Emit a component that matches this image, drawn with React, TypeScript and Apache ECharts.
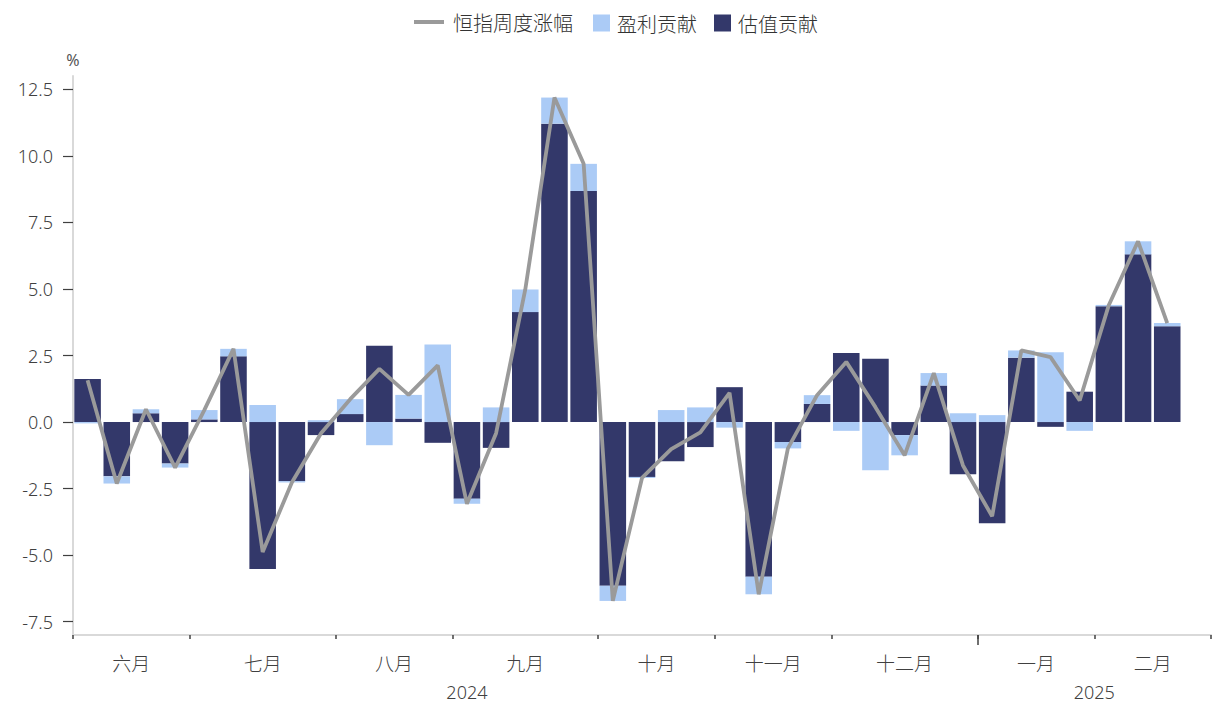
import React, { useEffect, useRef } from 'react';
import * as echarts from 'echarts';

// ---- data ----
const months = ['六月', '七月', '八月', '九月', '十月', '十一月', '十二月', '一月', '二月'];
const weeksPerMonth = [4, 5, 4, 5, 4, 4, 5, 4, 4];
const years = ['2024', '2025'];
const yearLabelPos = [13.5, 35];
const yearBoundaryPos = [31];
const yTicks = [-7.5, -5, -2.5, 0, 2.5, 5, 7.5, 10, 12.5];

// 恒指周度涨幅 (%)
const hsiWeekly = [
  1.57, -2.31, 0.48, -1.71, 0.45, 2.75, -4.88, -2.27, -0.42, 0.86,
  2.0, 1.02, 2.13, -3.07, -0.42, 4.98, 12.19, 9.7, -6.72, -2.1,
  -1.02, -0.39, 1.1, -6.47, -0.99, 1.01, 2.26, 0.56, -1.25, 1.84,
  -1.63, -3.54, 2.69, 2.44, 0.81, 4.4, 6.79, 3.72,
];
// 盈利贡献 (%)
const earningsContrib = [
  -0.05, -0.27, 0.15, -0.15, 0.35, 0.28, 0.64, -0.05, 0.07, 0.56,
  -0.87, 0.89, 2.91, -0.19, 0.55, 0.85, 0.98, 1.02, -0.57, -0.04,
  0.45, 0.55, -0.21, -0.66, -0.24, 0.33, -0.33, -1.81, -0.76, 0.47,
  0.33, 0.26, 0.27, 2.62, -0.33, 0.05, 0.49, 0.12,
];
// 估值贡献 (%)
const valuationContrib = [
  1.62, -2.04, 0.33, -1.56, 0.1, 2.47, -5.52, -2.22, -0.49, 0.3,
  2.87, 0.13, -0.78, -2.88, -0.97, 4.13, 11.21, 8.68, -6.15, -2.06,
  -1.47, -0.94, 1.31, -5.81, -0.75, 0.68, 2.59, 2.38, -0.49, 1.37,
  -1.96, -3.8, 2.42, -0.18, 1.14, 4.35, 6.3, 3.6,
];

// ---- derived axis helpers ----
const categories: string[] = [];
months.forEach((m, i) => {
  for (let w = 1; w <= weeksPerMonth[i]; w++) categories.push(`${m}第${w}周`);
});
const monthBounds: number[] = [0];
weeksPerMonth.forEach((n) => monthBounds.push(monthBounds[monthBounds.length - 1] + n));
const monthCenters = months.map((_, i) => (monthBounds[i] + monthBounds[i + 1]) / 2);
const totalWeeks = monthBounds[monthBounds.length - 1];

const C_DARK = '#33386a';
const C_LIGHT = '#abcbf6';
const C_LINE = '#9a9a9a';
const C_TEXT = '#404040';
const C_AXIS = '#d9d9d9';
const FONT = '"Noto Sans", "Noto Sans CJK SC", sans-serif';
const FONT_CJK = '"Noto Sans CJK SC", "Noto Sans", sans-serif';

const legendText = { fontSize: 20, color: '#333333', fontFamily: FONT_CJK, fontWeight: 300 as any };

const option: any = {
  animation: false,
  backgroundColor: '#ffffff',
  grid: { left: 73, right: 2, top: 76, bottom: 71, containLabel: false },
  legend: [
    {
      data: [{ name: '恒指周度涨幅', icon: 'rect' }], left: 414, top: 12, itemWidth: 30, itemHeight: 4,
      textStyle: { ...legendText, padding: [0, 0, 0, 4] }, padding: 0,
    },
    {
      data: [{ name: '盈利贡献', icon: 'rect' }], left: 593, top: 13, itemWidth: 17, itemHeight: 17,
      textStyle: { ...legendText, padding: [0, 0, 0, 2] }, padding: 0,
    },
    {
      data: [{ name: '估值贡献', icon: 'rect' }], left: 714, top: 13, itemWidth: 17, itemHeight: 17,
      textStyle: { ...legendText, padding: [0, 0, 0, 2] }, padding: 0,
    },
  ],
  xAxis: [
    {
      type: 'category',
      data: categories,
      boundaryGap: true,
      axisLine: { show: true, onZero: false, lineStyle: { color: C_AXIS, width: 2 } },
      axisTick: { show: false },
      axisLabel: { show: false },
      splitLine: { show: false },
    },
    {
      type: 'value',
      min: 0,
      max: totalWeeks,
      position: 'bottom',
      axisLine: { show: false, onZero: false },
      splitLine: { show: false },
      axisTick: {
        show: true, length: 4, customValues: monthBounds,
        lineStyle: { color: C_TEXT, width: 1.5 },
      },
      axisLabel: {
        show: true, margin: 18, customValues: monthCenters,
        fontSize: 19, color: C_TEXT, fontFamily: FONT_CJK, fontWeight: 300,
        formatter: (v: number) => {
          const i = monthCenters.findIndex((c) => Math.abs(c - v) < 1e-6);
          return i >= 0 ? months[i] : '';
        },
      },
    },
    {
      type: 'value',
      min: 0,
      max: totalWeeks,
      position: 'bottom',
      axisLine: { show: false, onZero: false },
      splitLine: { show: false },
      axisTick: {
        show: true, length: 10, customValues: yearBoundaryPos,
        lineStyle: { color: C_TEXT, width: 1.5 },
      },
      axisLabel: {
        show: true, margin: 48, customValues: yearLabelPos,
        fontSize: 18, color: C_TEXT, fontFamily: FONT, fontWeight: 300,
        formatter: (v: number) => {
          const i = yearLabelPos.findIndex((c) => Math.abs(c - v) < 1e-6);
          return i >= 0 ? years[i] : '';
        },
      },
    },
  ],
  yAxis: {
    type: 'value',
    min: -8,
    max: 13,
    name: '%',
    nameLocation: 'end',
    nameGap: 8,
    nameTextStyle: { fontSize: 16, color: '#555555', fontFamily: FONT, align: 'center' },
    axisLine: { show: true, lineStyle: { color: C_AXIS, width: 2 } },
    axisTick: { show: true, length: 10, customValues: yTicks, lineStyle: { color: C_TEXT, width: 1.2 } },
    axisLabel: {
      customValues: yTicks, margin: 20, fontSize: 18, color: C_TEXT, fontFamily: FONT, fontWeight: 300,
      formatter: (v: number) => v.toFixed(1),
    },
    splitLine: { show: false },
  },
  series: [
    {
      name: '估值贡献',
      type: 'bar',
      stack: 'contrib',
      xAxisIndex: 0,
      barWidth: '91%',
      itemStyle: { color: C_DARK },
      data: valuationContrib,
    },
    {
      name: '盈利贡献',
      type: 'bar',
      stack: 'contrib',
      xAxisIndex: 0,
      barWidth: '91%',
      itemStyle: { color: C_LIGHT },
      data: earningsContrib,
    },
    {
      name: '恒指周度涨幅',
      type: 'line',
      xAxisIndex: 0,
      symbol: 'none',
      z: 5,
      lineStyle: { color: C_LINE, width: 3.8 },
      itemStyle: { color: C_LINE },
      data: hsiWeekly,
    },
  ],
};

export default function App() {
  const ref = useRef<HTMLDivElement>(null);
  useEffect(() => {
    if (!ref.current) return;
    const chart = echarts.init(ref.current, null, { renderer: 'svg' });
    chart.setOption(option);
    return () => chart.dispose();
  }, []);
  return (
    <div
      ref={ref}
      style={{ position: 'fixed', left: 0, top: 0, width: 1213, height: 706, background: '#fff' }}
    />
  );
}
